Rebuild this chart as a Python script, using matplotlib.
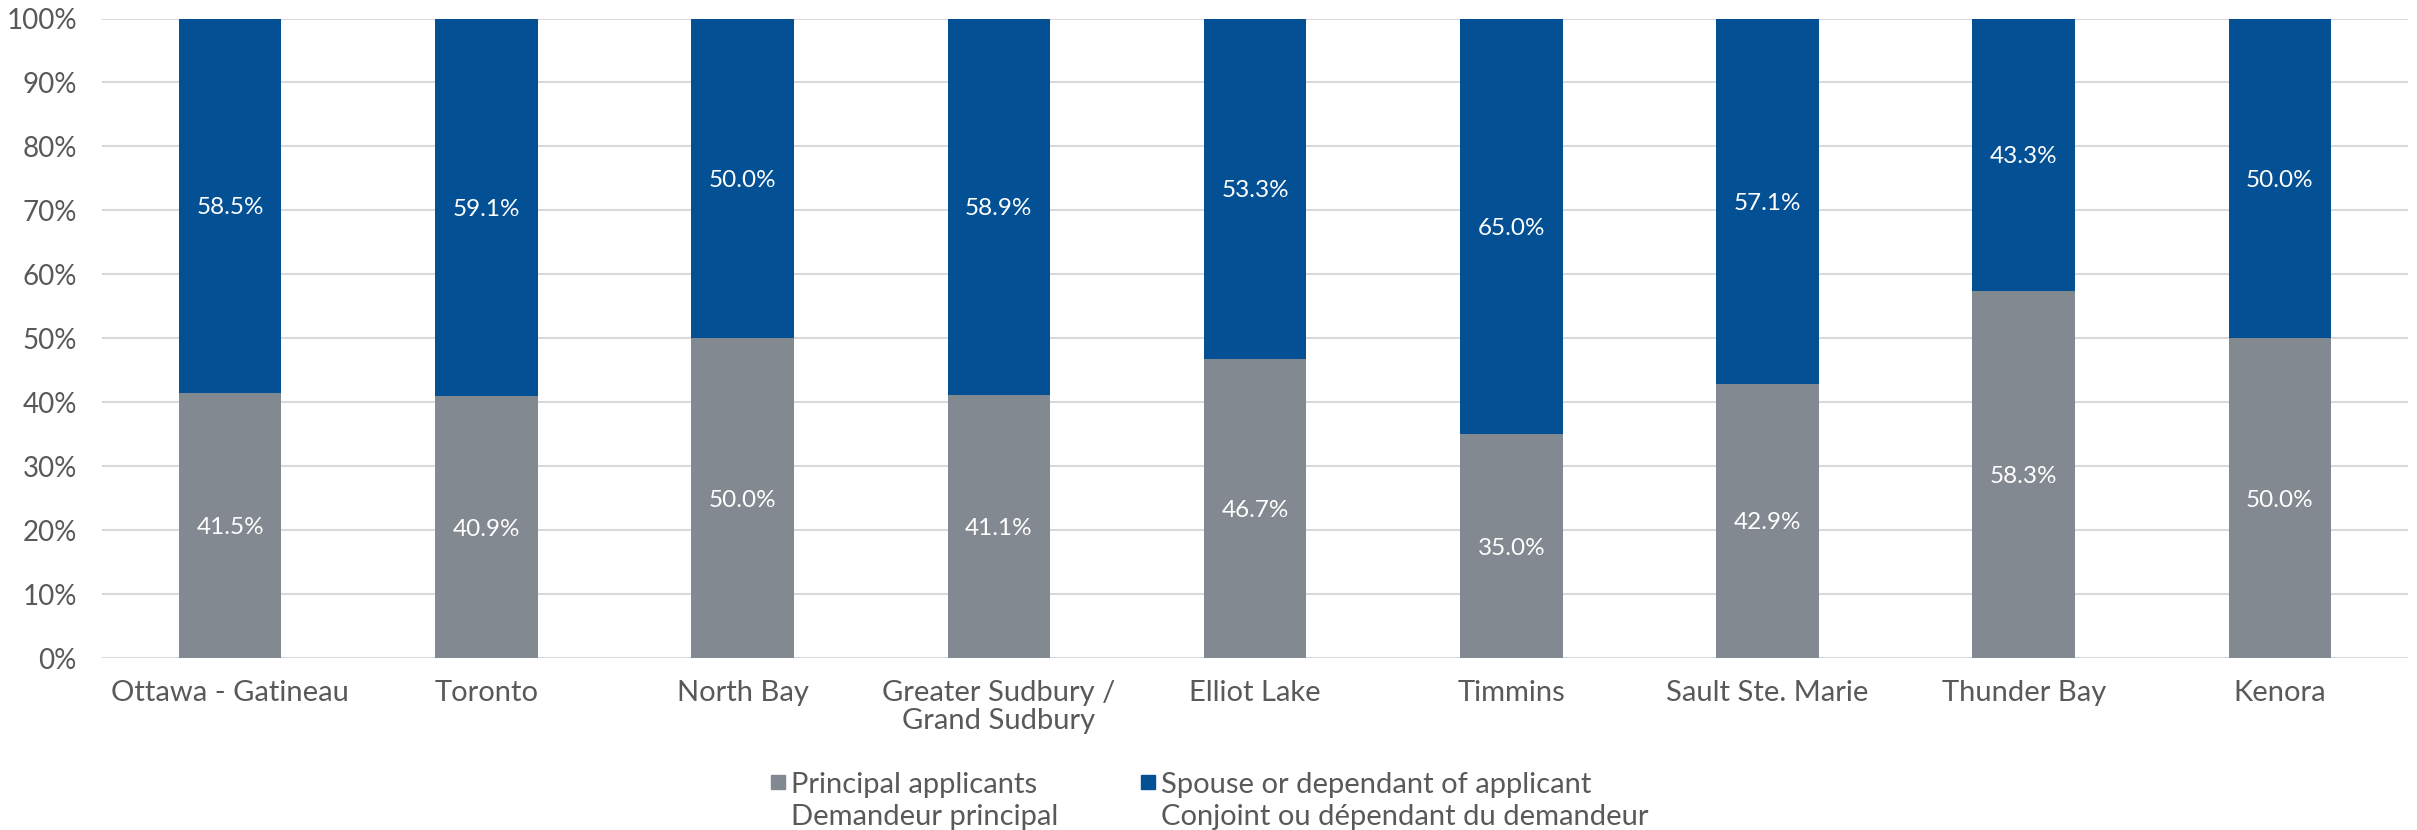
import matplotlib
matplotlib.use("Agg")
import matplotlib.pyplot as plt
from matplotlib.patches import Rectangle
import numpy as np

plt.rcParams['font.family'] = ['Lato', 'DejaVu Sans']

categories = ["Ottawa - Gatineau", "Toronto", "North Bay", "Greater Sudbury /\nGrand Sudbury",
              "Elliot Lake", "Timmins", "Sault Ste. Marie", "Thunder Bay", "Kenora"]
principal = [41.5, 40.9, 50.0, 41.1, 46.7, 35.0, 42.9, 58.3, 50.0]
spouse = [58.5, 59.1, 50.0, 58.9, 53.3, 65.0, 57.1, 43.3, 50.0]
yticks = [0, 10, 20, 30, 40, 50, 60, 70, 80, 90, 100]
legend_labels = ["Principal applicants\nDemandeur principal",
                 "Spouse or dependant of applicant\nConjoint ou dépendant du demandeur"]

GRAY = "#838990"
BLUE = "#035094"
TXT = "#595959"

fig = plt.figure(figsize=(24.17, 8.3), dpi=100)
ax = fig.add_axes([0.0422, 0.2072, 0.9541, 0.7705])

p = np.array(principal)
s = np.array(spouse)
tot = p + s
pn = p / tot * 100
sn = s / tot * 100
x = np.arange(len(categories))
w = 0.4
ax.bar(x, pn, w, color=GRAY, zorder=3)
ax.bar(x, sn, w, bottom=pn, color=BLUE, zorder=3)

fs = 17.5
for i in range(len(x)):
    ax.text(x[i], pn[i] / 2, f"{principal[i]:.1f}%", ha="center", va="center_baseline",
            color="white", fontsize=fs, zorder=4)
    ax.text(x[i], pn[i] + sn[i] / 2, f"{spouse[i]:.1f}%", ha="center", va="center_baseline",
            color="white", fontsize=fs, zorder=4)

ax.set_xlim(-0.5, len(x) - 0.5)
ax.set_ylim(0, 100)
ax.set_yticks(yticks)
ax.set_yticklabels([f"{t}%" for t in yticks], fontsize=20, color=TXT)
ax.set_xticks(x)
ax.set_xticklabels(categories, fontsize=21, color=TXT, linespacing=1.1)
ax.tick_params(axis="both", length=0)
ax.tick_params(axis="y", pad=18)
ax.tick_params(axis="x", pad=16)
for sp in ax.spines.values():
    sp.set_visible(False)
ax.yaxis.grid(True, color="#D9D9D9", linewidth=1.5, zorder=0)
ax.set_axisbelow(True)

# legend (manual, figure pixel coordinates)
W, H = 2417, 830
def fx(px): return px / W
def fy(py): return 1 - py / H
sq = 14
line_y = [782, 814]
for xpix, col, lab in [(771, GRAY, legend_labels[0]), (1141, BLUE, legend_labels[1])]:
    fig.add_artist(Rectangle((fx(xpix), fy(line_y[0] + sq / 2)), sq / W, sq / H,
                             transform=fig.transFigure, color=col))
    for ln, yy in zip(lab.split("\n"), line_y):
        fig.text(fx(xpix + sq + 6), fy(yy), ln, ha="left", va="center_baseline",
                 fontsize=21, color=TXT)
fig.savefig("out.png", dpi=100)
